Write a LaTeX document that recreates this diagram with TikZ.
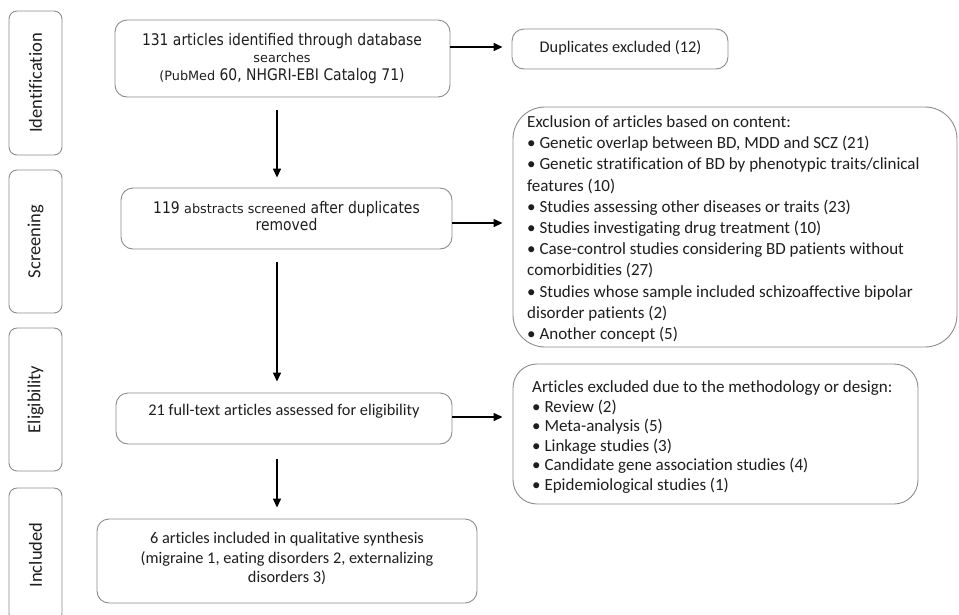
\documentclass[tikz,border=0pt]{standalone}
\usepackage{fontspec}
\setmainfont{Carlito}[Ligatures=NoCommon]
\newfontfamily\tahfont[FakeStretch=0.87]{DejaVu Sans}
\newfontfamily\verdfont{DejaVu Sans}
\usetikzlibrary{arrows.meta}
\definecolor{boxgray}{HTML}{8C8C8C}
\definecolor{txtc}{HTML}{1E1E1E}
\tikzset{
  box/.style={draw=boxgray, line width=0.9pt, rounded corners=12pt, inner sep=0pt, fill=none},
  stagebox/.style={box, rounded corners=8pt, minimum width=53pt},
  stagetxt/.style={text=txtc, inner sep=0pt, rotate=90, font=\fontsize{18.5}{22}\selectfont},
  txt/.style={text=txtc, inner sep=0pt, font=\fontsize{16.3}{19.5}\selectfont},
  listtxt/.style={text=txtc, inner sep=0pt, align=left, anchor=west},
  tahtxt/.style={text=txtc, inner sep=0pt, align=center, font=\tahfont\fontsize{16}{17.5}\selectfont},
  arr/.style={line width=1.4pt, draw=black, -{Triangle[length=9pt,width=8pt]}}
}
\newcommand{\smallverd}{\verdfont\fontsize{12.8}{17.5}\selectfont}
\begin{document}
\begin{tikzpicture}[x=1pt,y=-1pt]
\clip (0,0) rectangle (959,614);
\fill[white] (0,0) rectangle (959,614);

% stage boxes
\node[stagebox, minimum height=144pt] (s1) at (35.5,83) {};
\node[stagetxt] (t1) at (s1.center) {Identification};
\node[stagebox, minimum height=143pt] (s2) at (35.5,241.5) {};
\node[stagetxt] (t2) at (s2.center) {Screening};
\node[stagebox, minimum height=143pt] (s3) at (35.5,399.5) {};
\node[stagetxt] (t3) at (s3.center) {Eligibility};
\node[stagebox, minimum height=134pt] (s4) at (35.5,555) {};
\node[stagetxt] (t4) at (s4.center) {Included};

% main column
\node[box, minimum width=335pt, minimum height=77pt] (A) at (282.5,58.5) {};
\node[tahtxt] (tA) at (282,58.5) {131 articles identified through database\\{\smallverd searches}\\{\smallverd (PubMed} 60, NHGRI-EBI Catalog 71)};

\node[box, minimum width=331pt, minimum height=61pt] (B) at (286.5,218.5) {};
\node[tahtxt] (tB) at (286.5,216) {119 {\smallverd abstracts screened} after duplicates\\removed};

\node[box, minimum width=336pt, minimum height=51pt] (D) at (284,418.5) {};
\node[txt] (tD) at (284,411) {21 full-text articles assessed for eligibility};

\node[box, minimum width=380pt, minimum height=84pt] (F) at (287,561) {};
\node[txt, align=center] (tF) at (287,558.5) {6 articles included in qualitative synthesis\\(migraine 1, eating disorders 2, externalizing\\disorders 3)};

% right column
\node[box, minimum width=216pt, minimum height=40pt] (Dup) at (620,49) {};
\node[txt] (tDup) at (620.5,47.5) {Duplicates excluded (12)};

\node[box, rounded corners=32pt, minimum width=444pt, minimum height=240pt] (C) at (735,227) {};
\node[listtxt, font=\fontsize{17}{21.2}\selectfont] (tC) at (527,229) {Exclusion of articles based on content:\\
• Genetic overlap between BD, MDD and SCZ (21)\\
• Genetic stratification of BD by phenotypic traits/clinical\\
features (10)\\
• Studies assessing other diseases or traits (23)\\
• Studies investigating drug treatment (10)\\
• Case-control studies considering BD patients without\\
comorbidities (27)\\
• Studies whose sample included schizoaffective bipolar\\
disorder patients (2)\\
• Another concept (5)};

\node[box, rounded corners=24pt, minimum width=405pt, minimum height=140pt] (E) at (715.5,434) {};
\node[listtxt, font=\fontsize{17}{19.6}\selectfont] (tE) at (532,437) {Articles excluded due to the methodology or design:\\
• Review (2)\\
• Meta-analysis (5)\\
• Linkage studies (3)\\
• Candidate gene association studies (4)\\
• Epidemiological studies (1)};

% connectors
\coordinate (vx) at (277,0);
\coordinate (h1) at (0,47);
\coordinate (h2) at (0,223);
\coordinate (h3) at (0,417);
\draw[arr, shorten <=13pt, shorten >=10pt] (vx |- A.south) -- (vx |- B.north);
\draw[arr, shorten <=13pt, shorten >=11pt] (vx |- B.south) -- (vx |- D.north);
\draw[arr, shorten <=15pt, shorten >=11pt] (vx |- D.south) -- (vx |- F.north);
\draw[arr, shorten >=9pt] (A.east |- h1) -- (Dup.west |- h1);
\draw[arr, shorten >=10pt] (B.east |- h2) -- (C.west |- h2);
\draw[arr, shorten >=10pt] (D.east |- h3) -- (E.west |- h3);
\end{tikzpicture}
\end{document}
